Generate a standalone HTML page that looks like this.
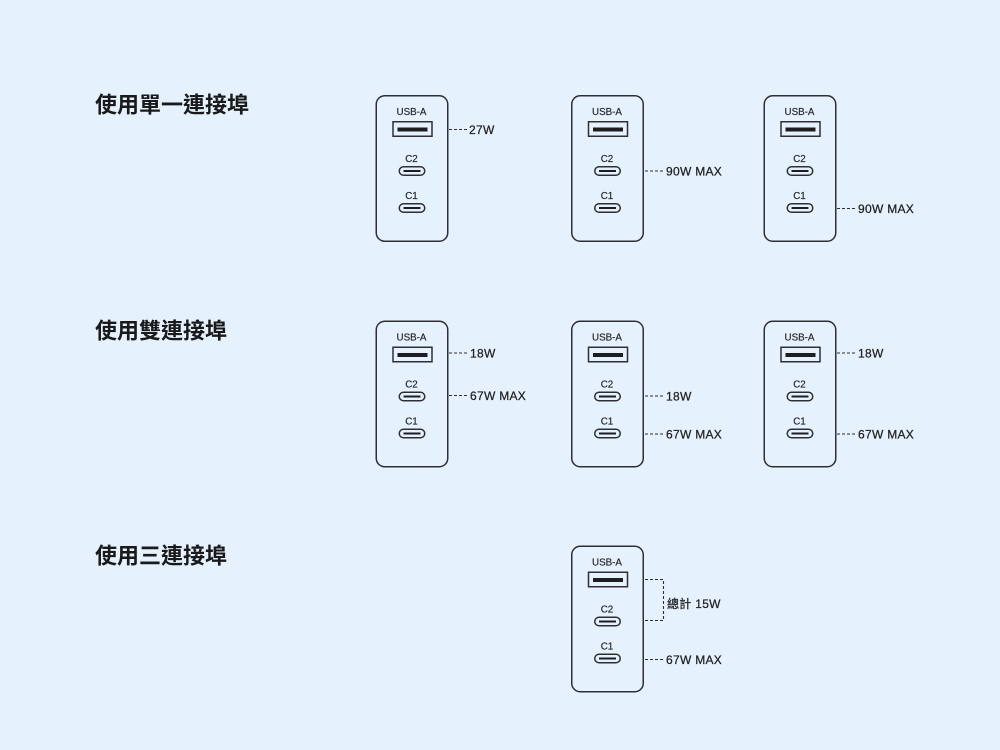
<!DOCTYPE html>
<html><head><meta charset="utf-8"><style>
html,body{margin:0;padding:0;background:#e5f2fd;}
svg{display:block;}
.t{font-family:"Liberation Sans","Noto Sans CJK TC",sans-serif;}
</style></head><body>
<svg width="1000" height="750" viewBox="0 0 1000 750" xmlns="http://www.w3.org/2000/svg">
<defs>
<g id="chg">
  <rect x="0.75" y="0.75" width="71.5" height="145.5" rx="8.5" fill="none" stroke="#2f2f33" stroke-width="1.5"/>
  <text x="36" y="20" text-anchor="middle" font-family="Liberation Sans, sans-serif" font-size="9.8" fill="#2a2a2e" stroke="#2a2a2e" stroke-width="0.2">USB-A</text>
  <rect x="17.5" y="26.75" width="39" height="14.5" fill="none" stroke="#2f2f33" stroke-width="1.5"/>
  <rect x="22" y="32.5" width="30" height="4" fill="#1e1e22"/>
  <text x="36" y="67" text-anchor="middle" font-family="Liberation Sans, sans-serif" font-size="9.8" fill="#2a2a2e" stroke="#2a2a2e" stroke-width="0.2">C2</text>
  <rect x="23.75" y="71.75" width="25.5" height="8.5" rx="4.25" fill="none" stroke="#2f2f33" stroke-width="1.5"/>
  <line x1="28" y1="76" x2="45" y2="76" stroke="#1e1e22" stroke-width="2"/>
  <text x="36" y="104" text-anchor="middle" font-family="Liberation Sans, sans-serif" font-size="9.8" fill="#2a2a2e" stroke="#2a2a2e" stroke-width="0.2">C1</text>
  <rect x="23.75" y="108.75" width="25.5" height="8.5" rx="4.25" fill="none" stroke="#2f2f33" stroke-width="1.5"/>
  <line x1="28" y1="113" x2="45" y2="113" stroke="#1e1e22" stroke-width="2"/>
</g>
</defs>

<g class="t" font-weight="bold" font-size="22" fill="#1a1a1a">
  <text x="95" y="112.5">使用單一連接埠</text>
  <text x="95" y="338.5">使用雙連接埠</text>
  <text x="95" y="563.5">使用三連接埠</text>
</g>

<!-- Row 1 -->
<use href="#chg" x="375.5" y="95"/>
<use href="#chg" x="571" y="95"/>
<use href="#chg" x="763.5" y="95"/>
<!-- Row 2 -->
<use href="#chg" x="375.5" y="320.5"/>
<use href="#chg" x="571" y="320.5"/>
<use href="#chg" x="763.5" y="320.5"/>
<!-- Row 3 -->
<use href="#chg" x="571" y="545.5"/>

<g stroke="#2f2f33" stroke-width="1.1" stroke-dasharray="3 2" fill="none">
  <line x1="449" y1="129.5" x2="468" y2="129.5"/>
  <line x1="645" y1="171" x2="664" y2="171"/>
  <line x1="837" y1="208.5" x2="856" y2="208.5"/>

  <line x1="449" y1="353" x2="468" y2="353"/>
  <line x1="449" y1="395.5" x2="468" y2="395.5"/>
  <line x1="645" y1="396" x2="664" y2="396"/>
  <line x1="645" y1="434" x2="664" y2="434"/>
  <line x1="837" y1="353" x2="856" y2="353"/>
  <line x1="837" y1="434" x2="856" y2="434"/>

  <polyline points="645,579.5 663.5,579.5 663.5,620.5 645,620.5"/>
  <line x1="645" y1="659.5" x2="664" y2="659.5"/>
</g>

<g class="t" font-size="12" fill="#222" stroke="#222" stroke-width="0.25" letter-spacing="0.3">
  <text x="469" y="133.8">27W</text>
  <text x="666" y="175.3">90W MAX</text>
  <text x="858" y="212.8">90W MAX</text>

  <text x="470" y="357.3">18W</text>
  <text x="470" y="399.8">67W MAX</text>
  <text x="666" y="400.3">18W</text>
  <text x="666" y="438.3">67W MAX</text>
  <text x="858" y="357.3">18W</text>
  <text x="858" y="438.3">67W MAX</text>

  <text x="667" y="607.8">總計 15W</text>
  <text x="666" y="663.8">67W MAX</text>
</g>
</svg>
</body></html>
